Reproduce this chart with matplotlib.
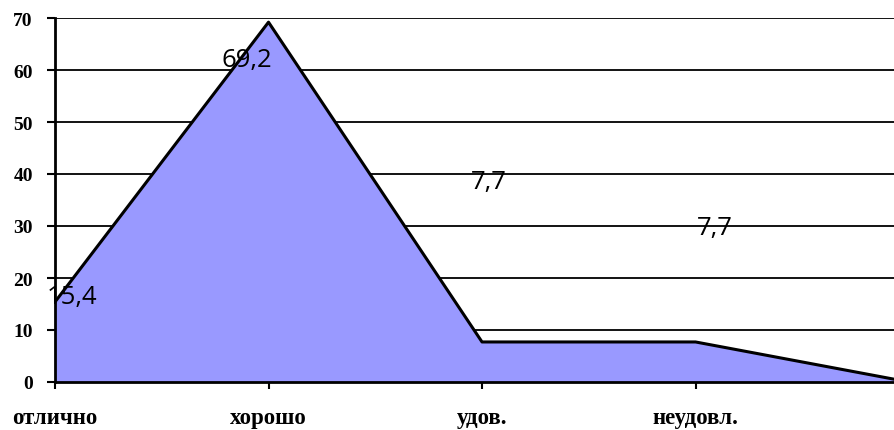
import numpy as np
import matplotlib.pyplot as plt

# ---------- Data ----------
categories = ['отлично', 'хорошо', 'удов.', 'неудовл.', '']
values = [15.4, 69.2, 7.7, 7.7, 0.0]
value_labels = ['15,4', '69,2', '7,7', '7,7']
# where the data labels sit (category index, value units)
label_x = [0.08, 0.9, 2.03, 3.09]
label_y = [16.5, 62.1, 38.5, 29.8]
y_ticks = [0, 10, 20, 30, 40, 50, 60, 70]

FILL = '#9999FF'

plt.rcParams['font.family'] = 'serif'
plt.rcParams['font.serif'] = ['Liberation Serif', 'DejaVu Serif']

fig = plt.figure(figsize=(8.95, 4.31), dpi=100)
ax = fig.add_axes([55 / 895, 1 - 383 / 431, 840 / 895, 364 / 431])

x = np.arange(len(values))
ax.fill_between(x, values, 0, color=FILL, zorder=2)
ax.plot(x, values, color='black', linewidth=2.2, zorder=3)

for yt in y_ticks[1:]:
    ax.axhline(yt, color='black', linewidth=1.3, zorder=1)

for lx, ly, txt in zip(label_x, label_y, value_labels):
    ax.text(lx, ly, txt, ha='center', va='center', fontsize=18.5,
            family='Open Sans', color='black', zorder=4)

ax.set_xlim(0, 838 / 213)
ax.set_ylim(0, 70)
ax.set_yticks(y_ticks)
ax.set_yticklabels([str(v) for v in y_ticks], fontweight='bold', fontsize=14)
ax.set_xticks(x[:4])
ax.set_xticklabels(categories[:4], fontweight='bold', fontsize=16.5)

for s in ['top', 'right']:
    ax.spines[s].set_visible(False)
for s in ['left', 'bottom']:
    ax.spines[s].set_linewidth(2)
    ax.spines[s].set_zorder(5)
ax.tick_params(axis='y', length=6, width=1.5, pad=10)
ax.tick_params(axis='x', length=5, width=1.5, pad=13)

plt.savefig('out.png', dpi=100)
